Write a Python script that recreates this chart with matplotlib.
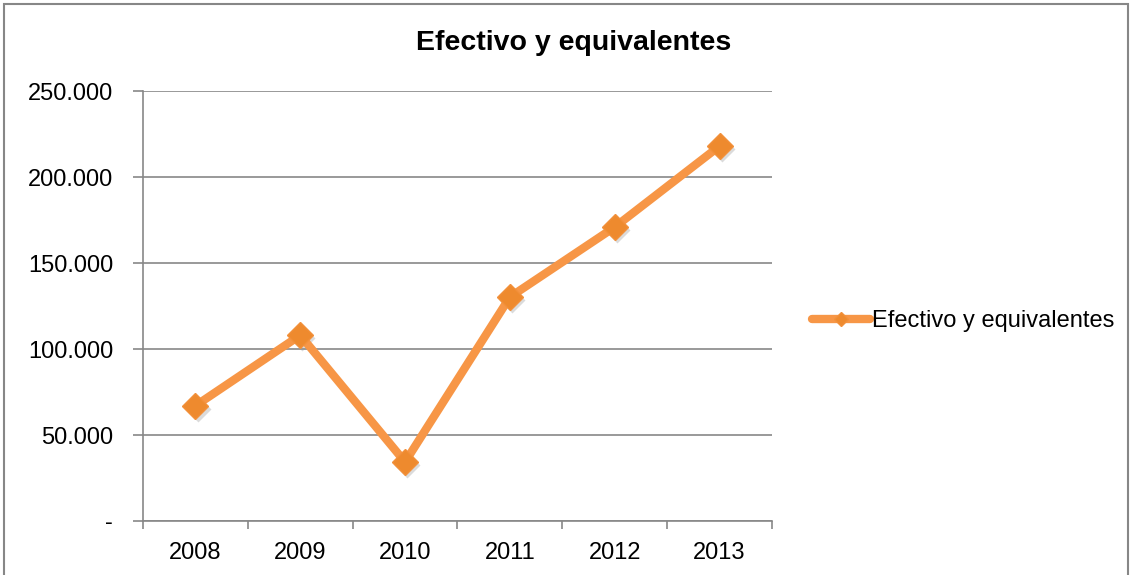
import matplotlib
matplotlib.use("Agg")
import matplotlib.pyplot as plt
from matplotlib.patches import Rectangle
from matplotlib.ticker import FixedLocator, FuncFormatter

plt.rcParams['font.family'] = ['Liberation Sans', 'DejaVu Sans']

years = ["2008", "2009", "2010", "2011", "2012", "2013"]
values = [67000, 108000, 34300, 130200, 170900, 218000]
series_name = "Efectivo y equivalentes"
title = "Efectivo y equivalentes"
yticks = [0, 50000, 100000, 150000, 200000, 250000]

W, H = 1131, 575
fig = plt.figure(figsize=(W / 100, H / 100), dpi=100)
ax = fig.add_axes([143 / W, 1 - 521 / H, (772 - 143) / W, (521 - 91) / H])

x = list(range(len(years)))
orange = "#F79646"
line, = ax.plot(x, values, color=orange, lw=6, solid_capstyle='round',
                marker='D', markersize=13.5, markerfacecolor="#EE8A2E",
                markeredgecolor="#F2903A", markeredgewidth=1, label=series_name,
                zorder=3)
# subtle shadow under markers only
ax.plot(x, values, lw=0, marker='D', markersize=13.5, markerfacecolor='#9a9a9a',
        markeredgecolor='none', alpha=0.35, zorder=2.5,
        transform=ax.transData + matplotlib.transforms.ScaledTranslation(1.5 / 72, -2 / 72, fig.dpi_scale_trans))

ax.set_xlim(-0.5, len(years) - 0.5)
ax.set_ylim(0, 250000)
ax.set_xticks(x)
ax.set_xticklabels(years, fontsize=17)
ax.xaxis.set_minor_locator(FixedLocator([i - 0.5 for i in range(len(years) + 1)]))
ax.tick_params(axis='x', which='major', length=0, pad=15)
ax.tick_params(axis='x', which='minor', length=6, width=1.2, color="#878787", direction='out')

ax.set_yticks(yticks)
def fmt(v, pos):
    if v == 0:
        return "-"
    return f"{int(v):,}".replace(",", ".")
ax.yaxis.set_major_formatter(FuncFormatter(fmt))
ax.tick_params(axis='y', length=7, width=1.2, color="#878787", labelsize=17, pad=14.5)

ax.grid(axis='y', color="#878787", lw=1.2)
ax.set_axisbelow(True)
for s in ['top', 'right']:
    ax.spines[s].set_visible(False)
for s in ['left', 'bottom']:
    ax.spines[s].set_color("#878787")
    ax.spines[s].set_linewidth(1.2)

fig.text(574 / W, 1 - 43 / H, title, ha='center', va='center', fontsize=20.5, fontweight='bold')

leg = fig.legend(handles=[line], labels=[series_name], loc='center left',
                 bbox_to_anchor=(803 / W, 1 - 321 / H), frameon=False, fontsize=17,
                 handlelength=2.45, handletextpad=0.08, borderaxespad=0)
for h in leg.legend_handles:
    h.set_markersize(7)

fig.patches.append(Rectangle((4 / W, -0.01), (1128 - 4) / W, 1 - 4 / H + 0.01,
                             transform=fig.transFigure, fill=False,
                             edgecolor="#878787", lw=1.5))

fig.savefig("out.png", dpi=100)
